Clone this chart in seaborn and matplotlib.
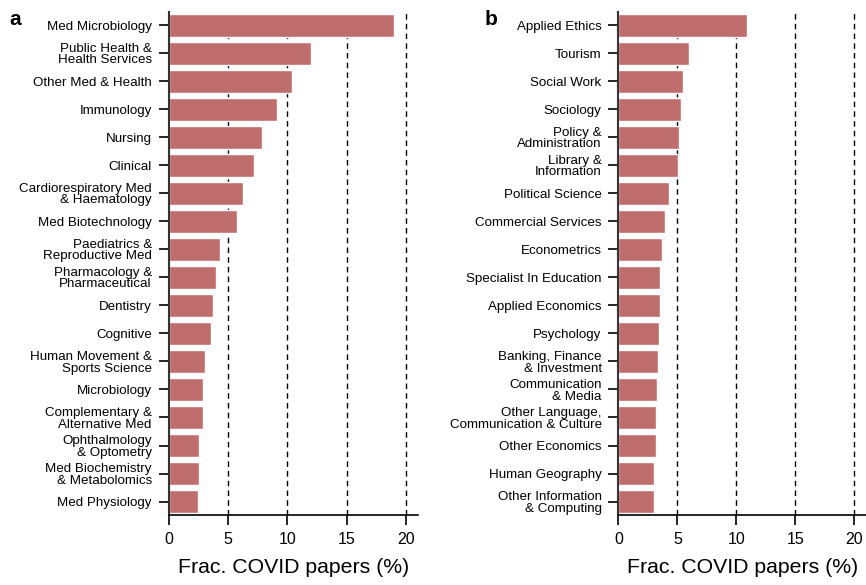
import matplotlib
matplotlib.use("Agg")
import matplotlib.pyplot as plt
import seaborn as sns
import pandas as pd

med_fields = ["Med Microbiology", "Public Health &\nHealth Services", "Other Med & Health",
              "Immunology", "Nursing", "Clinical", "Cardiorespiratory Med\n& Haematology",
              "Med Biotechnology", "Paediatrics &\nReproductive Med", "Pharmacology &\nPharmaceutical",
              "Dentistry", "Cognitive", "Human Movement &\nSports Science", "Microbiology",
              "Complementary &\nAlternative Med", "Ophthalmology\n& Optometry",
              "Med Biochemistry\n& Metabolomics", "Med Physiology"]
med_values = [19.0, 12.0, 10.4, 9.1, 7.9, 7.2, 6.3, 5.8, 4.35, 4.0,
              3.75, 3.6, 3.1, 2.9, 2.9, 2.6, 2.6, 2.5]

soc_fields = ["Applied Ethics", "Tourism", "Social Work", "Sociology", "Policy &\nAdministration",
              "Library &\nInformation", "Political Science", "Commercial Services", "Econometrics",
              "Specialist In Education", "Applied Economics", "Psychology",
              "Banking, Finance\n& Investment", "Communication\n& Media",
              "Other Language,\nCommunication & Culture", "Other Economics",
              "Human Geography", "Other Information\n& Computing"]
soc_values = [10.9, 6.0, 5.45, 5.3, 5.15, 5.05, 4.3, 3.95, 3.7, 3.55, 3.55, 3.45,
              3.35, 3.3, 3.2, 3.2, 3.05, 3.05]

xticks = [0, 5, 10, 15, 20]
xlabel = "Frac. COVID papers (%)"
panel_labels = ["a", "b"]

sns.set_theme(style="ticks")
plt.rcParams["font.family"] = ["Liberation Sans", "DejaVu Sans"]
plt.rcParams["text.color"] = "black"
plt.rcParams["axes.labelcolor"] = "black"
plt.rcParams["xtick.color"] = "black"
plt.rcParams["ytick.color"] = "black"

bar_color = "#BF6D6D"

fig = plt.figure(figsize=(8.66, 5.85), dpi=100)
ax1 = fig.add_axes([0.1946, 0.1197, 0.2878, 0.860])
ax2 = fig.add_axes([0.7140, 0.1197, 0.2862, 0.860])

for ax, fields, values, lab, lx in [(ax1, med_fields, med_values, panel_labels[0], 0.011),
                                     (ax2, soc_fields, soc_values, panel_labels[1], 0.560)]:
    df = pd.DataFrame({"field": fields, "value": values})
    sns.barplot(data=df, x="value", y="field", ax=ax, color=bar_color, saturation=1,
                width=0.82, orient="h")
    ax.set_xlim(0, 21)
    ax.set_ylim(17.48, -0.48)
    for t in xticks[1:]:
        ax.axvline(t, color="black", linestyle=(0, (4, 3)), linewidth=1.0, zorder=0)
    ax.set_xticks(xticks)
    ax.set_xlabel(xlabel, fontsize=15.3, labelpad=8)
    ax.set_ylabel("")
    ax.tick_params(axis="x", labelsize=11.5, length=7, width=1.2, pad=5)
    ax.tick_params(axis="y", labelsize=9.6, length=7, width=1.2, pad=5)
    for lbl in ax.get_yticklabels():
        lbl.set_linespacing(0.95)
    for s in ["top", "right"]:
        ax.spines[s].set_visible(False)
    ax.spines["left"].set_color("#333333")
    ax.spines["left"].set_linewidth(1.5)
    ax.spines["bottom"].set_color("black")
    ax.spines["bottom"].set_linewidth(1.2)
    fig.text(lx, 0.983, lab, fontsize=15, fontweight="bold", va="top", ha="left")

fig.savefig("out.png", dpi=100)
